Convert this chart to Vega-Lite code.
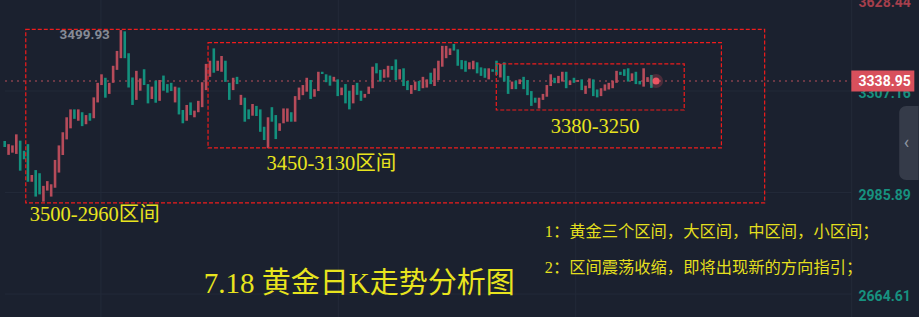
{
  "$schema": "https://vega.github.io/schema/vega-lite/v6.json",
  "width": 919,
  "height": 317,
  "padding": 0,
  "autosize": {"type": "none"},
  "background": "#1b212f",
  "config": {"view": {"stroke": null}},
  "datasets": {
    "k": [
      {"i":0,"o":3149,"c":3130},{"i":1,"o":3105,"c":3139},{"i":2,"o":3112,"c":3135},{"i":3,"o":3108,"c":3170},
      {"i":4,"o":3150,"c":3055},{"i":5,"o":3118,"c":3091},{"i":6,"o":3139,"c":3020},{"i":7,"o":3020,"c":3041},
      {"i":8,"o":3057,"c":2973},{"i":9,"o":3047,"c":2980},{"i":10,"o":2957,"c":3007},{"i":11,"o":2992,"c":3022},
      {"i":12,"o":2973,"c":3012},{"i":13,"o":3001,"c":3089},{"i":14,"o":3049,"c":3135},{"i":15,"o":3105,"c":3177},
      {"i":16,"o":3154,"c":3224},{"i":17,"o":3189,"c":3249},{"i":18,"o":3249,"c":3219},{"i":19,"o":3213,"c":3249},
      {"i":20,"o":3240,"c":3196},{"i":21,"o":3202,"c":3231},{"i":22,"o":3237,"c":3213},{"i":23,"o":3221,"c":3287},
      {"i":24,"o":3271,"c":3333},{"i":25,"o":3326,"c":3360},{"i":26,"o":3349,"c":3286},{"i":27,"o":3298,"c":3333},
      {"i":28,"o":3333,"c":3387},{"i":29,"o":3374,"c":3434},{"i":30,"o":3411,"c":3499.93},{"i":31,"o":3496,"c":3411},
      {"i":32,"o":3427,"c":3318},{"i":33,"o":3350,"c":3263},{"i":34,"o":3279,"c":3371},{"i":35,"o":3308,"c":3347},
      {"i":36,"o":3376,"c":3326},{"i":37,"o":3329,"c":3268},{"i":38,"o":3282,"c":3321},{"i":39,"o":3340,"c":3270},
      {"i":40,"o":3276,"c":3342},{"i":41,"o":3356,"c":3308},{"i":42,"o":3329,"c":3302},{"i":43,"o":3333,"c":3307},
      {"i":44,"o":3271,"c":3321},{"i":45,"o":3318,"c":3233},{"i":46,"o":3247,"c":3205},{"i":47,"o":3213,"c":3263},
      {"i":48,"o":3271,"c":3231},{"i":49,"o":3224,"c":3245},{"i":50,"o":3240,"c":3276},{"i":51,"o":3256,"c":3335},
      {"i":52,"o":3310,"c":3393},{"i":53,"o":3352,"c":3403},{"i":54,"o":3442,"c":3365},{"i":55,"o":3371,"c":3403},
      {"i":56,"o":3368,"c":3418},{"i":57,"o":3403,"c":3336},{"i":58,"o":3333,"c":3279},{"i":59,"o":3310,"c":3349},
      {"i":60,"o":3352,"c":3329},{"i":61,"o":3263,"c":3295},{"i":62,"o":3286,"c":3210},{"i":63,"o":3249,"c":3218},
      {"i":64,"o":3229,"c":3266},{"i":65,"o":3260,"c":3228},{"i":66,"o":3249,"c":3178},{"i":67,"o":3194,"c":3152},
      {"i":68,"o":3126,"c":3224},{"i":69,"o":3256,"c":3210},{"i":70,"o":3231,"c":3155},{"i":71,"o":3181,"c":3205},
      {"i":72,"o":3205,"c":3252},{"i":73,"o":3210,"c":3252},{"i":74,"o":3240,"c":3210},{"i":75,"o":3210,"c":3291},
      {"i":76,"o":3279,"c":3318},{"i":77,"o":3294,"c":3326},{"i":78,"o":3305,"c":3349},{"i":79,"o":3342,"c":3282},
      {"i":80,"o":3289,"c":3313},{"i":81,"o":3307,"c":3368},{"i":82,"o":3368,"c":3361},{"i":83,"o":3360,"c":3335},
      {"i":84,"o":3356,"c":3324},{"i":85,"o":3337,"c":3352},{"i":86,"o":3344,"c":3291},{"i":87,"o":3294,"c":3318},
      {"i":88,"o":3329,"c":3268},{"i":89,"o":3308,"c":3249},{"i":90,"o":3268,"c":3326},{"i":91,"o":3333,"c":3295},
      {"i":92,"o":3308,"c":3276},{"i":93,"o":3286,"c":3298},{"i":94,"o":3298,"c":3321},{"i":95,"o":3316,"c":3384},
      {"i":96,"o":3395,"c":3363},{"i":97,"o":3374,"c":3337},{"i":98,"o":3349,"c":3376},{"i":99,"o":3350,"c":3387},
      {"i":100,"o":3386,"c":3374},{"i":101,"o":3407,"c":3342},{"i":102,"o":3344,"c":3376},{"i":103,"o":3379,"c":3323},
      {"i":104,"o":3339,"c":3310},{"i":105,"o":3298,"c":3326},{"i":106,"o":3310,"c":3337},{"i":107,"o":3339,"c":3307},
      {"i":108,"o":3316,"c":3352},{"i":109,"o":3318,"c":3344},{"i":110,"o":3365,"c":3329},{"i":111,"o":3323,"c":3379},
      {"i":112,"o":3342,"c":3403},{"i":113,"o":3384,"c":3450},{"i":114,"o":3411,"c":3450},{"i":115,"o":3421,"c":3442},
      {"i":116,"o":3456,"c":3435},{"i":117,"o":3439,"c":3387},{"i":118,"o":3405,"c":3376},{"i":119,"o":3403,"c":3368},
      {"i":120,"o":3376,"c":3398},{"i":121,"o":3376,"c":3403},{"i":122,"o":3398,"c":3363},{"i":123,"o":3382,"c":3355},
      {"i":124,"o":3379,"c":3349},{"i":125,"o":3344,"c":3379},{"i":126,"o":3376,"c":3368},{"i":127,"o":3403,"c":3358},
      {"i":128,"o":3350,"c":3393},{"i":129,"o":3398,"c":3337},{"i":130,"o":3355,"c":3298},{"i":131,"o":3313,"c":3337},
      {"i":132,"o":3340,"c":3313},{"i":133,"o":3329,"c":3344},{"i":134,"o":3352,"c":3313},{"i":135,"o":3342,"c":3294},
      {"i":136,"o":3307,"c":3260},{"i":137,"o":3286,"c":3270},{"i":138,"o":3252,"c":3286},{"i":139,"o":3279,"c":3298},
      {"i":140,"o":3289,"c":3326},{"i":141,"o":3323,"c":3360},{"i":142,"o":3349,"c":3332},{"i":143,"o":3332,"c":3355},
      {"i":144,"o":3337,"c":3368},{"i":145,"o":3368,"c":3316},{"i":146,"o":3326,"c":3340},{"i":147,"o":3349,"c":3333},
      {"i":148,"o":3336,"c":3342},{"i":149,"o":3344,"c":3310},{"i":150,"o":3298,"c":3324},{"i":151,"o":3316,"c":3347},
      {"i":152,"o":3344,"c":3291},{"i":153,"o":3312,"c":3287},{"i":154,"o":3291,"c":3316},{"i":155,"o":3308,"c":3328},
      {"i":156,"o":3312,"c":3333},{"i":157,"o":3316,"c":3340},{"i":158,"o":3333,"c":3371},{"i":159,"o":3368,"c":3358},
      {"i":160,"o":3376,"c":3355},{"i":161,"o":3379,"c":3337},{"i":162,"o":3339,"c":3363},{"i":163,"o":3368,"c":3329},
      {"i":164,"o":3339,"c":3328},{"i":165,"o":3321,"c":3379},{"i":166,"o":3336,"c":3351},{"i":167,"o":3358,"c":3317}
    ],
    "levels": [{"v":3628.44},{"v":3307.16},{"v":2985.89},{"v":2664.61}],
    "vgrid": [{"i":24.85},{"i":86.15},{"i":147.46}],
    "boxes": [
      {"x":5.44,"x2":196.25,"top":3502,"bottom":2953},
      {"x":52.51,"x2":185.08,"top":3460,"bottom":3127},
      {"x":126.95,"x2":175.48,"top":3393,"bottom":3247}
    ],
    "ranges": [
      {"i":6.5,"p":2895.8,"t":"3500-2960区间"},
      {"i":67.6,"p":3055.6,"t":"3450-3130区间"},
      {"i":141.0,"p":3175.2,"t":"3380-3250"}
    ],
    "heading": [{"i":51.4,"p":2666.9,"t":"7.18 黄金日K走势分析图"}],
    "notes": [
      {"i":139.46,"p":2845.1,"t":"1：黄金三个区间，大区间，中区间，小区间；"},
      {"i":139.46,"p":2731.2,"t":"2：区间震荡收缩，即将出现新的方向指引；"}
    ],
    "peak": [{"i":30,"p":3499.93}],
    "last": [{"i":168.2,"p":3338.95}],
    "panel": [{"edge":218.72,"tab0":231.0,"tab1":236,"tabTop":3259.7,"tabBot":3025.5,"chev":232.9,"chevP":3142.6}]
  },
  "layer": [
    {
      "data": {"name": "vgrid"},
      "mark": {"type": "rule", "color": "#232a39", "strokeWidth": 1},
      "encoding": {
        "x": {"field": "i", "type": "quantitative", "scale": {"domain": [0.077, 234.82], "nice": false, "zero": false}, "axis": null}
      }
    },
    {
      "data": {"name": "levels"},
      "transform": [{"filter": "datum.v < 3595"}],
      "mark": {"type": "rule", "color": "#232a39", "strokeWidth": 1},
      "encoding": {
        "y": {"field": "v", "type": "quantitative", "scale": {"domain": [2591.97, 3595.14], "nice": false, "zero": false, "clamp": true}, "axis": null},
        "x": {"datum": 0.077, "type": "quantitative"},
        "x2": {"datum": 218.72}
      }
    },
    {
      "data": {"name": "panel"},
      "mark": {"type": "rule", "color": "#232a39", "strokeWidth": 1},
      "encoding": {
        "x": {"field": "edge", "type": "quantitative"}
      }
    },
    {
      "data": {"name": "last"},
      "mark": {"type": "rule", "color": "#6a3845", "strokeWidth": 2, "strokeDash": [2, 4]},
      "encoding": {
        "y": {"field": "p", "type": "quantitative"},
        "x": {"datum": 0.077, "type": "quantitative"},
        "x2": {"datum": 218.72}
      }
    },
    {
      "data": {"name": "k"},
      "mark": {"type": "bar", "size": 2.6},
      "encoding": {
        "x": {"field": "i", "type": "quantitative"},
        "y": {"field": "o", "type": "quantitative"},
        "y2": {"field": "c"},
        "color": {"condition": {"test": "datum.c >= datum.o", "value": "#b64b5a"}, "value": "#13907d"}
      }
    },
    {
      "data": {"name": "boxes"},
      "mark": {"type": "rect", "fill": "transparent", "stroke": "#f01c1c", "strokeWidth": 1.2, "strokeDash": [4, 2]},
      "encoding": {
        "x": {"field": "x", "type": "quantitative"},
        "x2": {"field": "x2"},
        "y": {"field": "top", "type": "quantitative"},
        "y2": {"field": "bottom"}
      }
    },
    {
      "data": {"name": "ranges"},
      "mark": {"type": "text", "align": "left", "baseline": "alphabetic", "font": "'Liberation Serif', 'Noto Sans CJK SC'", "fontSize": 20.5, "color": "#e8e41e"},
      "encoding": {
        "x": {"field": "i", "type": "quantitative"},
        "y": {"field": "p", "type": "quantitative"},
        "text": {"field": "t"}
      }
    },
    {
      "data": {"name": "heading"},
      "mark": {"type": "text", "align": "left", "baseline": "alphabetic", "font": "'Liberation Serif', 'Noto Sans CJK SC'", "fontSize": 29, "color": "#e8e41e"},
      "encoding": {
        "x": {"field": "i", "type": "quantitative"},
        "y": {"field": "p", "type": "quantitative"},
        "text": {"field": "t"}
      }
    },
    {
      "data": {"name": "notes"},
      "mark": {"type": "text", "align": "left", "baseline": "alphabetic", "font": "'Liberation Serif', 'Noto Sans CJK SC'", "fontSize": 16.3, "color": "#e3df1e"},
      "encoding": {
        "x": {"field": "i", "type": "quantitative"},
        "y": {"field": "p", "type": "quantitative"},
        "text": {"field": "t"}
      }
    },
    {
      "data": {"name": "peak"},
      "mark": {"type": "text", "align": "right", "baseline": "alphabetic", "dx": -11, "dy": 9, "font": "Roboto", "fontWeight": "bold", "fontSize": 13.5, "color": "#868b96"},
      "encoding": {
        "x": {"field": "i", "type": "quantitative"},
        "y": {"field": "p", "type": "quantitative"},
        "text": {"field": "p", "type": "quantitative", "format": ".2f"}
      }
    },
    {
      "data": {"name": "levels"},
      "mark": {"type": "text", "align": "left", "baseline": "middle", "dy": 3, "font": "Roboto", "fontWeight": "bold", "fontSize": 14},
      "encoding": {
        "x": {"datum": 220.5, "type": "quantitative"},
        "y": {"field": "v", "type": "quantitative"},
        "text": {"field": "v", "type": "quantitative", "format": ".2f"},
        "color": {"condition": {"test": "datum.v > 3338.95", "value": "#a63f4c"}, "value": "#17917f"}
      }
    },
    {
      "data": {"name": "last"},
      "mark": {"type": "tick", "orient": "horizontal", "size": 63, "thickness": 21, "color": "#d8505c", "opacity": 1},
      "encoding": {
        "x": {"datum": 226.77, "type": "quantitative"},
        "y": {"field": "p", "type": "quantitative"}
      }
    },
    {
      "data": {"name": "last"},
      "mark": {"type": "text", "align": "left", "baseline": "middle", "dy": 1, "font": "Roboto", "fontWeight": "bold", "fontSize": 14, "color": "#ffffff"},
      "encoding": {
        "x": {"datum": 220.5, "type": "quantitative"},
        "y": {"field": "p", "type": "quantitative"},
        "text": {"field": "p", "type": "quantitative", "format": ".2f"}
      }
    },
    {
      "data": {"name": "panel"},
      "mark": {"type": "rect", "color": "#353b49", "cornerRadiusTopLeft": 7, "cornerRadiusBottomLeft": 7},
      "encoding": {
        "x": {"field": "tab0", "type": "quantitative"},
        "x2": {"field": "tab1"},
        "y": {"field": "tabTop", "type": "quantitative"},
        "y2": {"field": "tabBot"}
      }
    },
    {
      "data": {"name": "panel"},
      "mark": {"type": "text", "align": "center", "baseline": "middle", "font": "Roboto", "fontSize": 18, "color": "#8e95a1", "text": "‹"},
      "encoding": {
        "x": {"field": "chev", "type": "quantitative"},
        "y": {"field": "chevP", "type": "quantitative"}
      }
    },
    {
      "data": {"name": "last"},
      "mark": {"type": "point", "shape": "circle", "filled": true, "size": 200, "color": "#e0505e", "opacity": 0.25},
      "encoding": {
        "x": {"field": "i", "type": "quantitative"},
        "y": {"field": "p", "type": "quantitative"}
      }
    },
    {
      "data": {"name": "last"},
      "mark": {"type": "point", "shape": "circle", "filled": true, "size": 50, "color": "#ea5563", "opacity": 1},
      "encoding": {
        "x": {"field": "i", "type": "quantitative"},
        "y": {"field": "p", "type": "quantitative"}
      }
    }
  ]
}
